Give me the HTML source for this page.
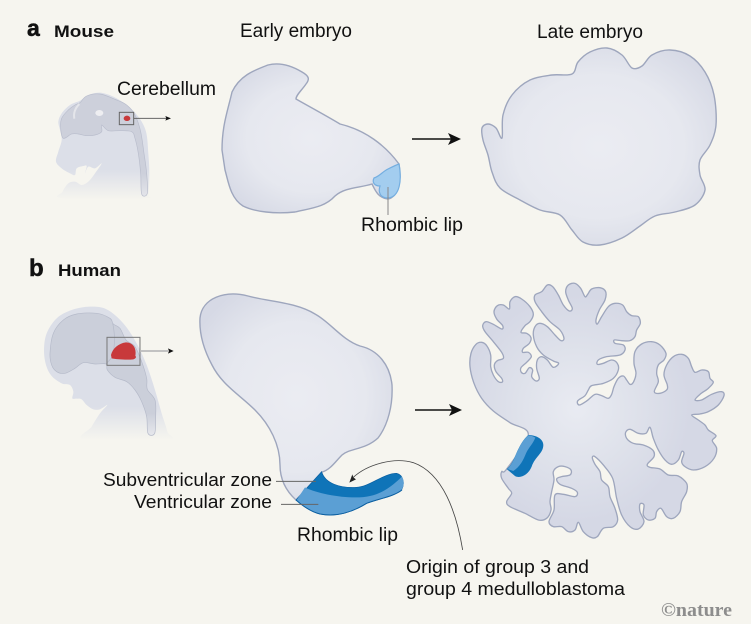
<!DOCTYPE html>
<html><head><meta charset="utf-8"><style>
html,body{margin:0;padding:0;background:#f6f5ef;width:751px;height:624px;overflow:hidden}
svg{display:block}
text{font-family:"Liberation Sans",sans-serif;fill:#111}
</style></head><body>
<svg width="751" height="624" viewBox="0 0 751 624" xmlns="http://www.w3.org/2000/svg">
<defs>
<radialGradient id="g1" cx="50%" cy="50%" r="60%"><stop offset="0" stop-color="#ebecf2"/><stop offset=".6" stop-color="#e6e8ef"/><stop offset="1" stop-color="#d6d9e5"/></radialGradient>
<radialGradient id="g2" gradientUnits="userSpaceOnUse" cx="350" cy="400" r="340"><stop offset="0" stop-color="#e9ebf2"/><stop offset=".5" stop-color="#dfe2eb"/><stop offset="1" stop-color="#d5d8e5"/></radialGradient>
<linearGradient id="fm" gradientUnits="userSpaceOnUse" x1="0" y1="330" x2="0" y2="420"><stop offset="0" stop-color="#dcdfe8"/><stop offset="1" stop-color="#f6f5ef"/></linearGradient>
<linearGradient id="fh" gradientUnits="userSpaceOnUse" x1="0" y1="350" x2="0" y2="450"><stop offset="0" stop-color="#dcdfe8"/><stop offset="1" stop-color="#f6f5ef"/></linearGradient>
<linearGradient id="fm2" gradientUnits="userSpaceOnUse" x1="0" y1="340" x2="0" y2="410"><stop offset="0" stop-color="#cdd0db"/><stop offset="1" stop-color="#e4e5ea"/></linearGradient>
<linearGradient id="fh2" gradientUnits="userSpaceOnUse" x1="0" y1="370" x2="0" y2="435"><stop offset="0" stop-color="#cbcfda"/><stop offset="1" stop-color="#e6e7ec"/></linearGradient>
</defs>
<rect width="751" height="624" fill="#f6f5ef"/>

<!-- Headings -->
<text x="27" y="36" font-size="23" font-weight="700" stroke="#111" stroke-width=".5">a</text>
<text x="54" y="37" font-size="16.5" font-weight="700" textLength="60" lengthAdjust="spacingAndGlyphs">Mouse</text>
<text x="240" y="37" font-size="19" textLength="112" lengthAdjust="spacingAndGlyphs">Early embryo</text>
<text x="537" y="38" font-size="19" textLength="106" lengthAdjust="spacingAndGlyphs">Late embryo</text>
<text x="29" y="276" font-size="24" font-weight="700" stroke="#111" stroke-width=".5">b</text>
<text x="58" y="276" font-size="16.5" font-weight="700" textLength="63" lengthAdjust="spacingAndGlyphs">Human</text>

<!-- Mouse head -->
<g transform="translate(20,60) scale(.3333)">
<path class="s" fill="url(#fm)" d="M115 185 125 160 150 135 180 122 205 105 240 98 280 110 320 135 355 170 378 215 385 280 388 340 385 405 375 415 130 415 128 395 145 370 165 365 185 375 205 365 225 340 245 310 225 325 205 320 195 340 200 318 190 318 170 325 165 345 150 340 125 325 108 305 115 275 125 240 120 210Z"/>
<path class="s" fill="url(#fm2)" stroke="#b9bdcc" stroke-width="2" d="M130 235 122 205 125 175 145 150 165 135 180 128 200 108 240 102 285 118 320 135 345 165 362 215 372 280 380 340 382 400 365 402 362 340 355 280 345 235 335 215 300 212 265 212 245 195 245 215 225 225 200 227 175 222 155 222Z"/>
<path fill="none" stroke="#e4e5ea" stroke-width="6" d="M178 132C165 145 160 160 163 176"/>
<ellipse cx="238" cy="159" rx="12" ry="9" fill="#eeeef1"/>
<rect x="298" y="157" width="43" height="37" fill="none" stroke="#666" stroke-width="3"/>
<ellipse cx="321" cy="175" rx="10" ry="8" fill="#c8393b"/>
<path d="M341 175H440" stroke="#666" stroke-width="3"/>
<path d="M453 175L436 168L439 175L436 182Z" fill="#111"/>
</g>
<text x="117" y="95" font-size="19" textLength="99" lengthAdjust="spacingAndGlyphs">Cerebellum</text>

<!-- Human head -->
<g transform="translate(20,290) scale(.3333)">
<path class="s" fill="url(#fh)" d="M72 180 80 130 110 85 155 60 210 50 260 58 310 100 350 160 380 225 405 300 425 370 442 425 440 450 195 450 215 410 240 370 262 345 240 358 220 358 200 345 185 328 170 326 157 325 160 305 150 285 125 280 95 258 78 225Z"/>
<path class="s" fill="url(#fh2)" stroke="#b5bac9" stroke-width="2" d="M90 190 100 130 130 90 170 72 230 70 270 85 280 102 300 115 318 150 345 170 365 215 380 265 382 298 405 330 407 380 404 430 384 430 380 380 365 335 345 300 320 275 285 262 262 240 258 222 225 222 190 218 165 235 135 250 110 245 95 225Z"/>
<path fill="none" stroke="#b5bac9" stroke-width="2" d="M278 100C285 130 285 165 278 200L258 222"/>
<rect x="261" y="142" width="99" height="84" fill="none" stroke="#777" stroke-width="3"/>
<path fill="#c8393b" d="M273 195C278 175 295 160 318 157C340 158 350 175 346 198C350 200 348 206 340 208C320 210 290 208 275 205Z"/>
<path d="M360 183H445" stroke="#bbb" stroke-width="5"/>
<path d="M461 183L444 175L447 183L444 191Z" fill="#111"/>
</g>

<!-- Mouse early -->
<path fill="url(#g1)" stroke="#9ea6bd" stroke-width="1.4" d="M222 150C222 125 228 110 232 92C240 75 255 70 268 65C280 62 292 66 302 72C309 76 310 79 306 84C302 90 296 95 296 99C310 107 325 115 340 124C365 130 385 145 399 164C402 180 398 197 388 199C378 198 375 190 372 184C360 188 345 187 335 196C325 207 312 208 295 212C275 214 255 212 243 206C230 198 228 180 225 170Z"/>
<path fill="#a3cdef" stroke="#74aee0" stroke-width="1.2" d="M399 164C402 180 400 197 388 198C380 198 378 192 380 186C374 186 372 182 374 178C380 176 382 172 388 169C392 167 396 165 399 164Z"/>
<path d="M388 187V215" stroke="#888" stroke-width="1"/>
<text x="361" y="231" font-size="19" textLength="102" lengthAdjust="spacingAndGlyphs">Rhombic lip</text>

<!-- Mouse arrow -->
<path d="M412 139H452" stroke="#111" stroke-width="1.4"/>
<path d="M461 139L448 133L451 139L448 145Z" fill="#111"/>

<!-- Mouse late -->
<path class="s" fill="url(#g1)" stroke="#9ea6bd" stroke-width="1.4" d="M482 128 488 124 496 128 502 138 503 115 512 95 530 80 552 75 572 74 578 62 590 52 607 48 622 55 632 68 642 66 652 55 670 50 690 56 705 72 714 95 716 125 710 145 700 160 700 175 705 190 695 205 675 212 655 216 640 226 622 238 600 245 583 242 572 230 560 215 540 210 520 200 500 188 492 172 488 155 483 140Z"/>

<!-- Human early -->
<path fill="url(#g1)" stroke="#9ea6bd" stroke-width="1.4" d="M200 318C202 298 225 290 248 296C270 302 295 302 315 314C330 322 342 340 360 346C378 350 390 365 392 385C393 405 388 425 378 438C365 450 350 448 342 455C335 462 330 470 322 472L296 500C285 490 280 478 280 465C280 445 270 425 255 410C240 395 222 385 212 365C204 350 199 335 200 318Z"/>

<!-- Human blue -->
<g transform="translate(270,440) scale(.3333)">
<path fill="#0f74b8" stroke="#0a5ea0" stroke-width="2" d="M155 95C165 130 210 145 260 142C300 140 340 100 380 100C400 105 405 130 395 150C370 170 330 175 290 190C250 215 200 232 150 222C120 215 95 195 78 180Z"/>
<path fill="#5b9fd4" d="M105 142C150 165 250 180 300 168C345 158 375 130 396 110C404 125 402 140 394 150C370 170 330 175 290 190C250 215 200 232 150 222C120 215 95 195 80 180Z"/>
<path fill="none" stroke="#0a5ea0" stroke-width="3" d="M396 150C370 170 330 175 290 190C250 215 200 232 150 222C120 215 95 195 78 180"/>
<path d="M18 124H138M33 193H145" stroke="#666" stroke-width="3" fill="none"/>
<path d="M578 330C560 220 520 100 430 68C370 50 290 75 250 112" fill="none" stroke="#444" stroke-width="2.5"/>
<path d="M238 128L258 118L250 112L247 103Z" fill="#222"/>
</g>
<text x="103" y="486" font-size="18.5" textLength="169" lengthAdjust="spacingAndGlyphs">Subventricular zone</text>
<text x="134" y="508" font-size="18.5" textLength="138" lengthAdjust="spacingAndGlyphs">Ventricular zone</text>
<text x="297" y="541" font-size="19" textLength="101" lengthAdjust="spacingAndGlyphs">Rhombic lip</text>
<text x="406" y="573" font-size="18.5" textLength="183" lengthAdjust="spacingAndGlyphs">Origin of group 3 and</text>
<text x="406" y="595" font-size="18.5" textLength="219" lengthAdjust="spacingAndGlyphs">group 4 medulloblastoma</text>

<!-- Human arrow -->
<path d="M415 410H453" stroke="#111" stroke-width="1.4"/>
<path d="M462 410L449 404L452 410L449 416Z" fill="#111"/>

<!-- Human late foliated -->
<g transform="translate(460,275) scale(.3333)">
<path class="s" fill="url(#g2)" stroke="#9ea6bd" stroke-width="4" stroke-linejoin="round" d="M205 480 150 443 100 408 65 370 42 325 30 275 33 235 48 208 65 202 80 212 92 240 92 275 100 300 115 320 127 321 125 310 108 290 103 270 112 257 130 250 125 232 100 200 75 170 68 152 78 140 100 148 125 162 128 152 110 132 102 110 112 92 130 90 148 102 150 80 165 65 185 72 210 95 220 118 210 140 195 152 183 172 200 175 213 188 208 205 190 220 188 232 205 232 214 245 200 262 183 278 184 292 195 295 208 278 218 285 215 305 228 318 238 310 230 280 232 255 245 245 262 255 280 277 296 265 280 258 250 240 230 215 220 180 225 155 240 145 262 155 285 180 303 197 312 190 300 165 270 140 245 110 225 80 225 60 245 50 262 30 278 35 295 60 310 90 328 108 337 100 325 75 317 50 325 30 345 25 362 40 375 65 383 58 395 42 420 38 437 50 435 75 418 105 408 135 412 147 425 125 445 95 465 85 488 90 500 110 515 122 535 125 541 145 530 165 525 185 510 197 485 197 463 195 465 205 490 210 495 225 480 240 440 245 415 255 412 268 430 265 455 255 472 265 475 285 460 310 430 325 395 332 385 345 375 362 353 378 358 390 380 378 405 358 425 362 445 370 455 358 462 335 475 310 490 303 500 315 510 328 520 322 528 295 522 265 525 230 545 207 575 200 600 210 618 235 612 255 595 270 590 295 595 320 583 350 600 355 620 345 622 330 612 300 620 270 640 245 665 238 685 250 695 275 705 292 725 285 745 290 750 310 760 322 745 340 720 358 705 375 725 375 755 358 785 350 792 362 775 390 745 410 720 417 695 420 715 435 735 450 745 465 768 482 757 497 770 520 762 550 735 575 700 585 675 575 665 560 672 535 665 530 655 555 635 568 615 555 595 525 580 490 570 457 558 475 535 475 510 463 497 472 500 490 520 505 550 510 578 525 582 545 562 568 570 577 600 582 625 600 655 603 680 625 680 650 665 680 660 710 640 730 620 725 603 700 590 710 585 730 565 735 550 720 552 690 540 687 540 710 552 740 535 762 510 755 485 720 470 670 458 610 430 570 405 545 397 548 405 568 420 590 425 615 445 635 450 665 465 700 473 735 460 755 430 760 412 785 395 788 370 770 355 742 345 765 325 770 305 755 280 755 267 740 282 705 285 660 310 658 345 665 352 652 335 640 300 628 290 612 305 605 330 600 333 585 315 575 295 575 280 590 282 615 275 650 270 680 273 705 260 730 235 735 195 715 150 695 140 680 155 655 145 640 125 610 125 590 140 582Z"/>
<path fill="#0f74b8" d="M205 480C225 480 250 490 250 510C250 535 225 545 215 575C205 600 180 612 165 603L140 582C165 565 170 510 205 480Z"/>
<path fill="#5b9fd4" d="M205 481C212 481 220 484 226 488C220 505 208 515 198 535C190 555 180 575 160 588L142 582C165 565 170 510 205 481Z"/>
</g>

<!-- Logo -->
<text x="661" y="616" font-size="19" font-weight="700" style="font-family:'Liberation Serif',serif;fill:#8d8d8d" textLength="71" lengthAdjust="spacingAndGlyphs">©nature</text>
</svg>
<script>
document.querySelectorAll('path.s').forEach(function(e){
var n=e.getAttribute('d').match(/-?[\d.]+/g).map(Number),p=[];
for(var i=0;i<n.length;i+=2)p.push([n[i],n[i+1]]);
var L=p.length,d='M'+p[0][0]+' '+p[0][1];
for(i=0;i<L;i++){
var a=p[(i-1+L)%L],b=p[i],c=p[(i+1)%L],f=p[(i+2)%L];
d+='C'+(b[0]+(c[0]-a[0])/6).toFixed(1)+' '+(b[1]+(c[1]-a[1])/6).toFixed(1)+' '+(c[0]-(f[0]-b[0])/6).toFixed(1)+' '+(c[1]-(f[1]-b[1])/6).toFixed(1)+' '+c[0]+' '+c[1];
}
e.setAttribute('d',d+'Z');
});
</script>
</body></html>
